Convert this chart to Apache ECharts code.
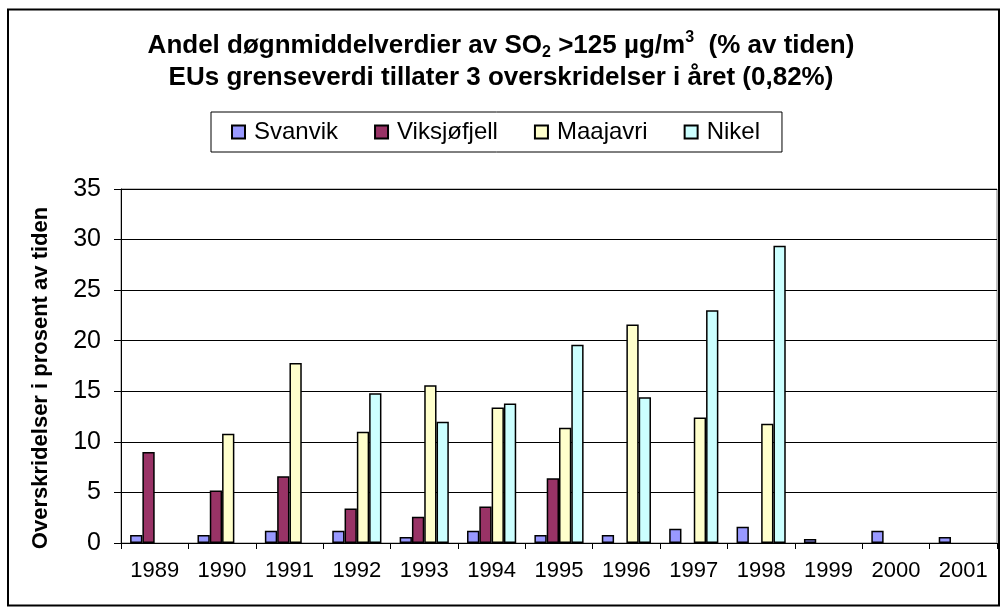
<!DOCTYPE html>
<html>
<head>
<meta charset="utf-8">
<script src="https://cdn.jsdelivr.net/npm/echarts@6/dist/echarts.min.js"></script>
<style>
  html, body { margin: 0; padding: 0; background: #fff; }
  #chart { width: 1002px; height: 612px; }
</style>
</head>
<body>
<div id="chart"></div>
<script>
const years = ['1989','1990','1991','1992','1993','1994','1995','1996','1997','1998','1999','2000','2001'];
const svanvik     = [0.8, 0.8, 1.2, 1.2, 0.6, 1.2, 0.8, 0.8, 1.4, 1.6, 0.4, 1.2, 0.6];
const viksjofjell = [9.0, 5.2, 6.6, 3.4, 2.6, 3.6, 6.4, '-', '-', '-', '-', '-', '-'];
const maajavri    = ['-', 10.8, 17.8, 11.0, 15.6, 13.4, 11.4, 21.6, 12.4, 11.8, '-', '-', '-'];
const nikel       = ['-', '-', '-', 14.8, 12.0, 13.8, 19.6, 14.4, 23.0, 29.4, '-', '-', '-'];
const yTicks = { min: 0, max: 35, interval: 5 };

const seriesDefs = [
  { name: 'Svanvik', data: svanvik, color: '#9999FF' },
  { name: 'Viksjøfjell', data: viksjofjell, color: '#993366' },
  { name: 'Maajavri', data: maajavri, color: '#FFFFCC' },
  { name: 'Nikel', data: nikel, color: '#CCFFFF' }
];

const FONT = 'Liberation Sans, Arial, sans-serif';
const chart = echarts.init(document.getElementById('chart'), null, { renderer: 'canvas' });

chart.setOption({
  animation: false,
  backgroundColor: '#fff',
  textStyle: { fontFamily: FONT, color: '#000' },
  title: {
    left: 'center',
    top: 30,
    padding: 0,
    text: 'Andel døgnmiddelverdier av SO{sub|2} >125 µg/m{sup|3}  (% av tiden)\nEUs grenseverdi tillater 3 overskridelser i året (0,82%)',
    textStyle: {
      fontFamily: FONT,
      fontSize: 26,
      fontWeight: 'bold',
      color: '#000',
      lineHeight: 32,
      rich: {
        sub: { fontFamily: FONT, fontSize: 16, fontWeight: 'bold', color: '#000', padding: [14, 0, 0, 0], lineHeight: 32 },
        sup: { fontFamily: FONT, fontSize: 16, fontWeight: 'bold', color: '#000', padding: [0, 0, 16, 0], lineHeight: 32 }
      }
    }
  },
  legend: {
    left: 211,
    top: 112,
    padding: [8, 22, 8, 20],
    itemGap: 36,
    itemWidth: 13,
    itemHeight: 13,
    icon: 'rect',
    borderColor: '#000',
    borderWidth: 1,
    backgroundColor: '#fff',
    textStyle: { fontFamily: FONT, fontSize: 24, color: '#000', padding: [0, 0, 0, 4] },
    data: seriesDefs.map(s => s.name)
  },
  grid: {
    left: 121,
    top: 189,
    right: 5,
    bottom: 69,
    show: true,
    borderColor: '#808080',
    borderWidth: 1,
    backgroundColor: '#fff',
    containLabel: false
  },
  xAxis: {
    type: 'category',
    data: years,
    boundaryGap: true,
    axisLine: { show: true, lineStyle: { color: '#000', width: 1 } },
    axisTick: { show: true, length: 6, lineStyle: { color: '#000' } },
    axisLabel: { interval: 0, fontFamily: FONT, fontSize: 22, color: '#000', margin: 17 },
    splitLine: { show: false }
  },
  yAxis: {
    type: 'value',
    min: yTicks.min,
    max: yTicks.max,
    interval: yTicks.interval,
    name: 'Overskridelser i prosent av tiden',
    nameLocation: 'middle',
    nameGap: 69,
    nameTextStyle: { fontFamily: FONT, fontSize: 22, fontWeight: 'bold', color: '#000', padding: [0, 24, 0, 0] },
    axisLine: { show: true, lineStyle: { color: '#000', width: 1 } },
    axisTick: { show: true, length: 7, lineStyle: { color: '#000' } },
    axisLabel: { fontFamily: FONT, fontSize: 25, color: '#000', margin: 20 },
    splitLine: { show: true, lineStyle: { color: '#000', width: 1 } }
  },
  graphic: [
    {
      type: 'rect',
      silent: true,
      z: -10,
      shape: { x: 8, y: 9.5, width: 991, height: 596 },
      style: { fill: 'none', stroke: '#000', lineWidth: 2 }
    }
  ],
  series: seriesDefs.map(s => ({
    name: s.name,
    type: 'bar',
    data: s.data,
    barGap: '0%',
    barCategoryGap: '27%',
    itemStyle: { color: s.color, borderColor: '#000', borderWidth: 1.5 }
  }))
});
</script>
</body>
</html>
